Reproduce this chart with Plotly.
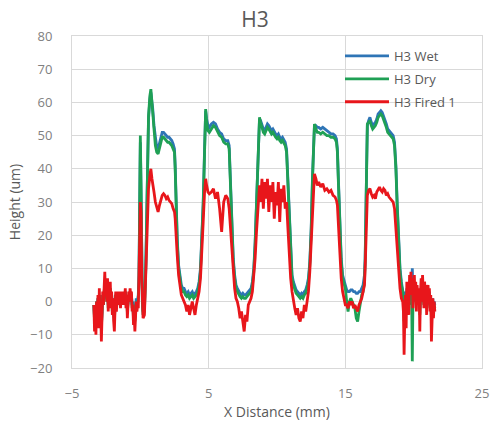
import plotly.graph_objects as go

# ---- data (x in mm, heights in um) ----
x_mm = [
    # pre-region
    -3.40, -3.35, -3.30, -3.25, -3.20, -3.15, -3.10, -3.05, -3.00, -2.95,
    -2.90, -2.85, -2.80, -2.75, -2.70, -2.65, -2.60, -2.55, -2.50, -2.45,
    -2.40, -2.35, -2.30, -2.25, -2.20, -2.15, -2.10, -2.05, -2.00, -1.95,
    -1.90, -1.85, -1.80, -1.75, -1.70, -1.65, -1.60, -1.55, -1.50, -1.45,
    -1.40, -1.35, -1.30, -1.25, -1.20, -1.15, -1.10, -1.05, -1.00, -0.95,
    -0.90, -0.85, -0.80, -0.75, -0.70, -0.65, -0.60, -0.55, -0.50, -0.45,
    -0.40, -0.35, -0.30, -0.25, -0.20,
    # first spike
    -0.15, -0.10, -0.05, 0.00, 0.05, 0.10, 0.15, 0.20, 0.30, 0.40, 0.50, 0.60, 0.70, 0.77, 0.85,
    # block 1
    0.90, 1.00, 1.10, 1.20, 1.30, 1.40, 1.50, 1.60, 1.70, 1.80, 1.90, 2.00, 2.10, 2.20, 2.30,
    2.40, 2.50, 2.55, 2.60, 2.70, 2.80, 2.90, 3.00, 3.10,
    # valley 1
    3.20, 3.30, 3.40, 3.50, 3.60, 3.70, 3.80, 3.90, 4.00, 4.10, 4.20, 4.30, 4.40, 4.50, 4.60, 4.70,
    # block 2
    4.78, 4.85, 4.95, 5.05, 5.20, 5.35, 5.50, 5.65, 5.80, 5.95, 6.05, 6.10, 6.25, 6.40, 6.50,
    6.60, 6.70, 6.80, 6.90, 7.00, 7.10,
    # valley 2
    7.20, 7.30, 7.40, 7.50, 7.60, 7.70, 7.80, 7.90, 8.00, 8.10, 8.20, 8.30, 8.40, 8.50, 8.60,
    # block 3
    8.72, 8.80, 8.90, 9.00, 9.10, 9.20, 9.30, 9.40, 9.50, 9.60, 9.70, 9.80, 9.90, 10.00, 10.10,
    10.20, 10.30, 10.40, 10.50, 10.60, 10.70, 10.80, 10.90, 11.00, 11.10, 11.20, 11.30,
    # valley 3
    11.40, 11.50, 11.60, 11.70, 11.80, 11.90, 12.00, 12.10, 12.20, 12.30, 12.40, 12.50, 12.60,
    # block 4
    12.74, 12.85, 12.95, 13.05, 13.20, 13.35, 13.50, 13.65, 13.80, 13.95, 14.10, 14.25, 14.35,
    14.42, 14.50, 14.60, 14.70, 14.80, 14.90, 15.00,
    # valley 4
    15.10, 15.20, 15.30, 15.40, 15.50, 15.60, 15.70, 15.80, 15.90, 16.00, 16.10, 16.20, 16.30,
    16.40, 16.45, 16.50, 16.55,
    # block 5
    16.61, 16.70, 16.80, 16.90, 17.00, 17.10, 17.20, 17.30, 17.40, 17.50, 17.60, 17.70, 17.80,
    17.90, 18.00, 18.10, 18.20, 18.30, 18.40, 18.50, 18.60, 18.70, 18.80, 18.90, 19.00, 19.10, 19.20,
    # post-region
    19.25, 19.30, 19.35, 19.40, 19.45, 19.50, 19.55, 19.60, 19.65, 19.70, 19.75, 19.80, 19.85,
    19.90, 19.95, 20.00, 20.05, 20.10, 20.15, 20.20, 20.25, 20.30, 20.35, 20.40, 20.45, 20.50,
    20.55, 20.60, 20.65, 20.70, 20.75, 20.80, 20.85, 20.90, 20.95, 21.00, 21.05, 21.10, 21.15,
    21.20, 21.25, 21.30, 21.35, 21.40, 21.45, 21.50, 21.55,
]

h3_wet = [
    -1, -5, -2, -6, 0, -4, 1, -5, 2, -3, -2, -7, -3, 2, 0, 4, 5, 2, 4, 1, 4, -1, 3, 1, 4,
    0, 2, -2, 1, -3, -5, -1, 2, -1, 1, 0, 2, 1, 2, 0, 2, 1, 2, 0, 2, 1, 3, 0, 2, -2,
    1, 2, 1, 3, 2, 2, -1, 0, -4, -2, -5, -1, 1, -1, 1,
    2, 8, 30, 48, 34, 11, 0, -3, -2, 11, 36, 55, 61, 63, 60,
    58.5, 53, 48.5, 46.5, 46, 48, 50, 51, 51, 50.5, 50, 49.5, 49.5, 49, 48.5,
    47.5, 46, 41, 31, 19, 11, 7, 5, 4,
    4, 3, 2.5, 3, 2, 2.5, 3, 2, 2.5, 3, 4, 6, 10, 18, 30, 46,
    57.5, 55, 53, 52.5, 53.5, 54, 53.5, 52, 51, 50.5, 49.5, 49, 48.5, 48.5, 47,
    36, 23, 13, 8, 5, 4,
    3, 2.5, 2, 2.5, 2, 2, 2.5, 3, 3.5, 4, 6, 10, 18, 30, 45,
    55, 54.5, 53, 52, 51.5, 52.5, 53.5, 53, 52, 51.5, 52, 51, 50.5, 50, 50.5,
    49.5, 49, 49.5, 48.5, 48, 46, 36, 23, 13, 8, 6, 4.5,
    3.5, 3, 2.5, 2, 2.5, 2, 3, 3.5, 5, 7, 12, 22, 38,
    53, 53, 52.5, 52.5, 52, 52.5, 52, 51.5, 51, 50.5, 50.5, 50, 49,
    46, 36, 23, 13, 8, 6, 5,
    3.5, 3, 3, 3.5, 3.5, 3, 3, 2.5, 2.5, 3, 3, 4, 5, 8, 13, 26, 41,
    53, 54.5, 55.5, 54, 53, 53.5, 54, 55, 56.5, 57, 57.5, 57, 56,
    55, 53.5, 52, 51.5, 51, 50.5, 50, 48, 41, 29, 17, 10, 6, 4,
    2, -3, 1, 3, 0, 4, 2, 3, 1, 5, 3, 6, 4, 10, 3, 4, 5, 2, 4, 0, 3, 2, 1, 3, -2,
    2, 4, 1, 5, 2, 0, 4, 2, 3, -1, 2, 3, 1, 3, -1, 1, -3, 0, 1, -2, 0, -1,
]

h3_dry = [
    -1, -6, -2, -7, 0, -4, 1, -6, 2, -3, -2, -8, -3, 2, -1, 4, 6, 1, 4, 0, 5, -2, 3, 0, 4,
    -1, 2, -3, 0, -4, -6, -1, 2, -2, 0, -1, 2, 0, 1, -1, 2, 0, 1, -1, 2, 0, 3, -1, 1, -3,
    0, 2, 0, 3, 1, 2, -2, -1, -5, -3, -6, -1, 0, -2, 0,
    1, 6, 30, 50, 35, 10, -1, -4, -3, 10, 36, 56, 62, 64, 60,
    58, 52, 47, 45, 44.5, 46.5, 48.5, 49.5, 49.5, 49, 48.5, 48, 48, 47.5, 47,
    46, 45, 40, 30, 18, 10, 6, 4, 3,
    3, 2, 1.5, 2, 1, 1.5, 2, 1, 1.5, 2, 3, 5, 9, 17, 29, 45,
    58, 54, 51.5, 51, 52, 53, 52.5, 51, 50, 49.5, 48.5, 48, 47.5, 47.5, 46,
    35, 22, 12, 7, 4, 3,
    2, 1.5, 1, 1.5, 1, 1, 1.5, 2, 2.5, 3, 5, 9, 17, 29, 44,
    55.5, 54, 52, 51, 50.5, 51.5, 52.5, 52, 51, 50.5, 51, 50, 49.5, 49, 49.5,
    48.5, 48, 48.5, 47.5, 47, 45, 35, 22, 12, 7, 5, 3.5,
    2.5, 2, 1.5, 1, 1.5, 1, 2, 2.5, 4, 6, 11, 21, 37,
    53.5, 52, 51, 51, 50.5, 51, 50.5, 50, 50, 49.5, 49.5, 49, 48,
    45, 35, 22, 12, 7, 5, 4,
    0, -3, 0, 1, 0, -1, -2, -5, -6, -3, 0, 2, 3, 6, 12, 25, 40,
    53.5, 54, 54.5, 53, 52, 52.5, 53, 54, 55.5, 56, 56.5, 56, 55,
    54, 52.5, 51, 50.5, 50, 49.5, 49, 47, 40, 28, 16, 9, 5, 3,
    0, -6, -1, 2, -3, 3, 0, 2, -1, 4, 1, 5, 2, -18, 1, 3, 4, 0, 3, -1, 2, 1, 0, 2, -4,
    1, 3, 0, 4, 1, -1, 3, 1, 2, -2, 1, 2, 0, 2, -2, 0, -5, -1, 0, -3, -1, -2,
]

h3_fired_1 = [
    -1, -9, -2, -10, 0, -6, 2, -8, 4, -5, -3, -12, -4, 3, -1, 7, 9, 2, 6, 0, 7, -3, 4, 1, 6,
    -2, 3, -4, 1, -6, -9, -2, 3, -3, 1, -1, 3, 0, 2, -2, 3, 0, 2, -1, 3, 1, 4, -2, 2, -5,
    1, 3, 0, 4, 2, 3, -3, -1, -7, -4, -9, -2, 0, -3, -1,
    -2, 5, 18, 30, 27, 8, -2, -5, -4, 8, 24, 34, 38, 40, 37,
    36, 33, 30, 28, 27, 29, 31, 32, 32.5, 32, 31, 31.5, 30.5, 30, 29.5,
    28, 27, 25, 20, 14, 8, 4, 2, 1,
    0, -1, -3, -1, -4, -2, 0, -2, -4, -1, 1, 3, 7, 14, 24, 33,
    37, 35, 33, 32.5, 33, 34, 31, 33, 28, 21, 27, 30, 32, 31, 28,
    22, 15, 8, 4, 1, 0,
    -2, -5, -3, -7, -9, -4, -6, -1, 0, 1, 3, 7, 13, 21, 29,
    35, 30, 37, 28, 36, 31, 37, 27, 35, 30, 36, 25, 33, 29, 36,
    24, 34, 30, 35, 28, 30, 22, 14, 7, 3, 0, -2,
    -4, -2, -5, -6, -3, -5, -1, -3, 0, 3, 9, 18, 28,
    38.5, 37, 35, 36, 34.5, 35.5, 33.5, 34, 33, 33.5, 32, 31.5, 30.5,
    29, 22, 14, 7, 3, 1, -1,
    -1, -2, 0, -1, 0, -2, -1, -2, -3, -1, 0, 1, 3, 5, 10, 18, 26,
    32, 33.5, 34, 32.5, 31.5, 32, 31, 33, 34, 34.5, 33.5, 33, 34,
    33.5, 32, 32.5, 31.5, 31, 30.5, 30, 28, 22, 15, 8, 4, 1, 0,
    -3, -16, -5, 2, -8, 6, 0, 4, -4, 8, 2, 9, 3, 7, -2, 5, 8, 1, 6, -3, 5, 2, -1, 4, -9,
    3, 7, 0, 8, 3, -2, 6, 2, 5, -4, 3, 5, 1, 4, -3, 2, -12, -2, 1, -5, 0, -3,
]

series_names = ["H3 Wet", "H3 Dry", "H3 Fired 1"]
series_values = [h3_wet, h3_dry, h3_fired_1]
series_colors = ["#2E75B6", "#1FA055", "#E8161B"]

x_ticks = [-5, 5, 15, 25]
y_ticks = [-20, -10, 0, 10, 20, 30, 40, 50, 60, 70, 80]

for v in series_values:
    assert len(v) == len(x_mm), (len(v), len(x_mm))

fig = go.Figure()
for name, vals, col in zip(series_names, series_values, series_colors):
    fig.add_trace(go.Scatter(
        x=x_mm, y=vals, mode="lines", name=name, legendgroup=name,
        line=dict(color=col, width=2.8),
    ))

grid = "#D9D9D9"
fig.update_layout(
    width=493, height=423,
    margin=dict(l=72, r=11, t=36, b=55, autoexpand=False),
    paper_bgcolor="white", plot_bgcolor="white",
    font=dict(family="Open Sans, sans-serif", color="#7F7F7F", size=13),
    title=dict(text="H3", x=255/493, xanchor="center", xref="container",
               y=1 - 20/423, yanchor="middle", yref="container",
               font=dict(size=21, color="#595959")),
    showlegend=True,
    legend=dict(x=(340 - 72)/410, xanchor="left", y=(368 - 41)/332, yanchor="top",
                bgcolor="rgba(0,0,0,0)", itemwidth=44, tracegroupgap=3,
                font=dict(size=13, color="#595959"), traceorder="grouped",
                xref="paper", yref="paper"),
    xaxis=dict(range=[-5, 25], tickvals=x_ticks, showgrid=True, gridcolor=grid,
               zeroline=False, showline=True, linecolor=grid, mirror=True,
               ticks="", ticklabelstandoff=13,
               title=dict(text="X Distance (mm)", font=dict(size=14, color="#595959"), standoff=6)),
    yaxis=dict(range=[-20, 80], tickvals=y_ticks, showgrid=True, gridcolor=grid,
               zeroline=False, showline=True, linecolor=grid, mirror=True,
               ticks="", ticklabelstandoff=16,
               title=dict(text="Height (um)", font=dict(size=14, color="#595959"), standoff=6)),
)

fig.write_html("out.html")
